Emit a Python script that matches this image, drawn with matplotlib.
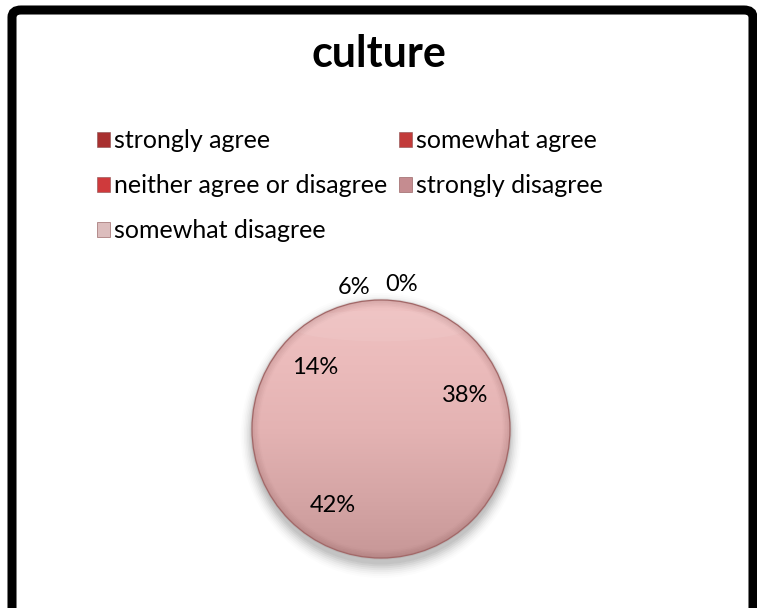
import numpy as np
import matplotlib
matplotlib.use("Agg")
import matplotlib.pyplot as plt
from matplotlib.patches import Circle, Ellipse, FancyBboxPatch, Patch
from matplotlib.colors import LinearSegmentedColormap

plt.rcParams['font.family'] = ['Lato', 'DejaVu Sans']

# survey answers for "culture"
categories = ['strongly agree', 'somewhat agree', 'neither agree or disagree',
              'strongly disagree', 'somewhat disagree']
shares = [0, 38, 42, 14, 6]
legend_colors = ['#a8302f', '#c23b3a', '#cf3a3c', '#c58c90', '#dcbdbd']
slice_color = '#e2b0b0'

W, H = 757, 608
fig = plt.figure(figsize=(W / 100, H / 100), dpi=100)

# rounded black frame round the whole chart
frame = FancyBboxPatch((12 / W, -0.05), 741 / W, 1 - 10 / H + 0.05,
                       boxstyle="round,pad=0,rounding_size=0.012",
                       transform=fig.transFigure, fill=False,
                       edgecolor='black', linewidth=6.5, zorder=0)
fig.patches.append(frame)

fig.text(0.5, 1 - 67 / H, 'culture', ha='center', va='baseline',
         fontsize=31, fontweight='bold')

# pie axes: radius 1 -> 129 px, centred at (381, 429)
R = 129
cx, cy = 381, 429
ax = fig.add_axes([(cx - 2 * R) / W, (H - cy - 2 * R) / H, 4 * R / W, 4 * R / H])

# soft shadow under the pie
for i, a in enumerate(np.linspace(0.05, 0.012, 8)):
    ax.add_patch(Ellipse((0, -0.05), 2.0 + i * 0.025, 2.0 + i * 0.03,
                         color='black', alpha=a, lw=0, zorder=1))

wedges, _ = ax.pie(shares, startangle=90, counterclock=False,
                   colors=[slice_color] * len(shares),
                   wedgeprops=dict(linewidth=0))
for w in wedges:
    w.set_zorder(2)

# vertical shading across the disc
grad = LinearSegmentedColormap.from_list(
    'pinkshade', ['#c79797', '#d6a6a6', '#e4b3b3', '#ebbbbb', '#efc2c2'])
img = ax.imshow(np.linspace(0, 1, 256).reshape(-1, 1), cmap=grad,
                extent=(-1, 1, -1, 1), origin='lower', aspect='auto', zorder=3)
disc = Circle((0, 0), 1.0, transform=ax.transData)
img.set_clip_path(disc)
ax.set_xlim(-2, 2)
ax.set_ylim(-2, 2)
ax.set_aspect('equal')
ax.axis('off')

# darker rim and thin edge
for k, a in enumerate(np.linspace(0.10, 0.0, 6)):
    ax.add_patch(Circle((0, 0), 1.0 - k * 0.012, fill=False,
                        edgecolor='#6b3b3b', alpha=a, lw=2.2, zorder=4))
ax.add_patch(Ellipse((0, 0.8), 1.4, 0.24, color='white', alpha=0.07,
                     lw=0, zorder=4))
ax.add_patch(Circle((0, 0), 1.0, fill=False, edgecolor='#a26868',
                    lw=0.9, zorder=5))

# percentage labels: inside for big slices, outside for small ones
total = float(sum(shares))
start = 90.0
for i, v in enumerate(shares):
    span = 360.0 * v / total
    mid = np.deg2rad(start - span / 2)
    start -= span
    if v >= 10:
        x, y = 0.7 * np.cos(mid), 0.7 * np.sin(mid)
    else:
        x, y = 1.12 * np.cos(mid), 1.12 * np.sin(mid)
        if v == 0:
            x += 0.16
    ax.text(x, y, f'{v}%', ha='center', va='center', fontsize=17, zorder=6)

# legend fills row by row in two columns
handles = [Patch(facecolor=c, edgecolor='#8a5050', linewidth=0.4)
           for c in legend_colors]
order = [0, 2, 4, 1, 3]
fig.legend([handles[i] for i in order], [categories[i] for i in order],
           loc='upper left', bbox_to_anchor=(84 / W, 1 - 117 / H), ncol=2,
           frameon=False, borderpad=0, fontsize=18, handlelength=0.55,
           handleheight=0.55, handletextpad=0.15, labelspacing=0.87,
           columnspacing=0.45)

fig.savefig('out.png', dpi=100)
